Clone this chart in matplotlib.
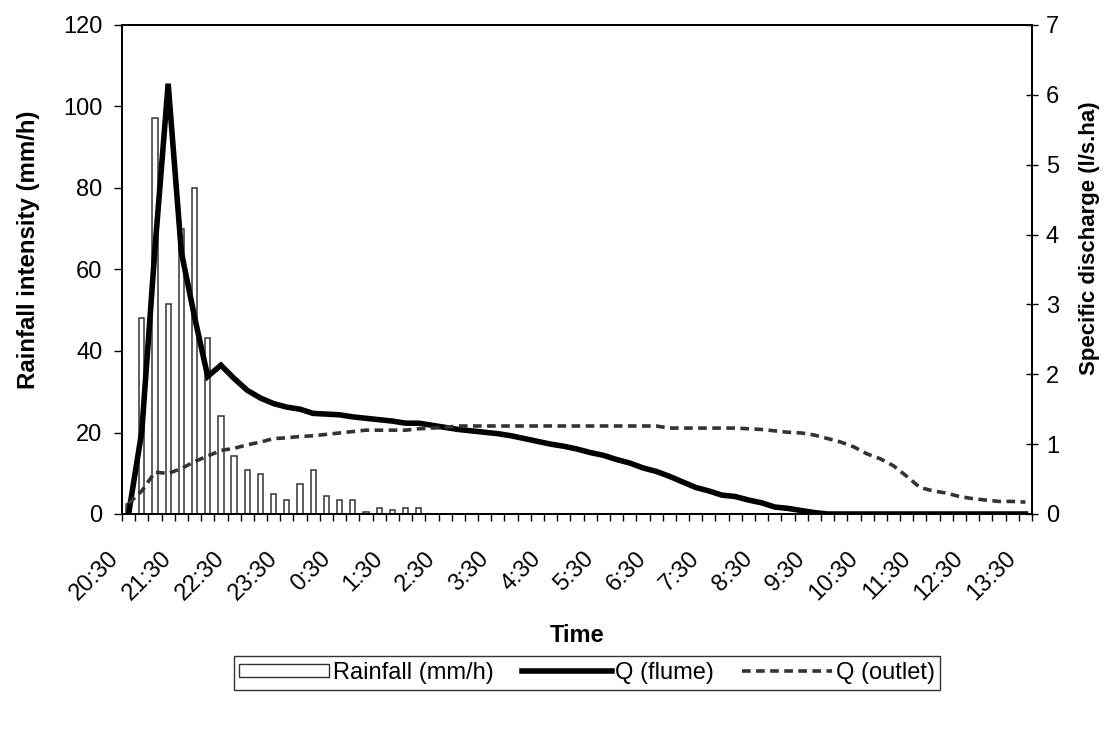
import numpy as np
import matplotlib
matplotlib.use("Agg")
import matplotlib.pyplot as plt
import matplotlib.transforms as mtransforms
from matplotlib.patches import Patch
from matplotlib.lines import Line2D

plt.rcParams['font.family'] = ['Liberation Sans', 'DejaVu Sans']

# 15-minute steps from 20:30 to 13:30 (69 steps), label every hour
hour_labels = ["20:30", "21:30", "22:30", "23:30", "0:30", "1:30", "2:30", "3:30",
               "4:30", "5:30", "6:30", "7:30", "8:30", "9:30", "10:30", "11:30",
               "12:30", "13:30"]

# rainfall intensity (mm/h)
rain = [2.5, 48, 97.3, 51.5, 70, 80, 43.3, 24, 14.2, 10.8, 9.8, 4.9, 3.4, 7.4,
        10.8, 4.4, 3.4, 3.4, 0.5, 1.5, 1.0, 1.5, 1.5, 0, 0, 0, 0, 0,
        0, 0, 0, 0, 0, 0, 0, 0, 0, 0, 0, 0, 0, 0,
        0, 0, 0, 0, 0, 0, 0, 0, 0, 0, 0, 0, 0, 0,
        0, 0, 0, 0, 0, 0, 0, 0, 0, 0, 0, 0, 0]

# specific discharge (l/s.ha)
q_flume = [0, 1.18, 3.8, 6.16, 3.75, 2.82, 1.97, 2.13, 1.94, 1.77, 1.66, 1.58, 1.53, 1.50,
           1.44, 1.43, 1.42, 1.39, 1.37, 1.35, 1.33, 1.30, 1.30, 1.27, 1.24, 1.21, 1.19, 1.17,
           1.15, 1.12, 1.08, 1.04, 1.00, 0.97, 0.93, 0.88, 0.84, 0.78, 0.73, 0.66, 0.61, 0.54,
           0.46, 0.38, 0.33, 0.27, 0.25, 0.20, 0.16, 0.10, 0.08, 0.05, 0.02, 0, 0, 0,
           0, 0, 0, 0, 0, 0, 0, 0, 0, 0, 0, 0, 0]

q_outlet = [0.15, 0.33, 0.60, 0.58, 0.65, 0.75, 0.83, 0.91, 0.94, 0.99, 1.03, 1.08, 1.09, 1.11,
            1.12, 1.14, 1.16, 1.18, 1.20, 1.20, 1.20, 1.20, 1.22, 1.23, 1.24, 1.26, 1.26, 1.26,
            1.26, 1.26, 1.26, 1.26, 1.26, 1.26, 1.26, 1.26, 1.26, 1.26, 1.26, 1.26, 1.26, 1.23,
            1.23, 1.23, 1.23, 1.23, 1.23, 1.22, 1.21, 1.19, 1.17, 1.16, 1.13, 1.08, 1.03, 0.96,
            0.86, 0.79, 0.69, 0.54, 0.38, 0.33, 0.30, 0.25, 0.22, 0.20, 0.18, 0.18, 0.17]

x = np.arange(len(rain))
W, H = 1112, 729
FS = 17

fig = plt.figure(figsize=(W / 100, H / 100), dpi=100)
ax = fig.add_axes([122 / W, 1 - 514 / H, (1032 - 122) / W, (514 - 25) / H])
ax2 = ax.twinx()

ax.bar(x, rain, width=0.4, facecolor="white", edgecolor="#333333", linewidth=1.1)
ax2.plot(x, q_flume, color="black", linewidth=4.0, solid_joinstyle="miter")
ax2.plot(x, q_outlet, color="#333333", linewidth=2.6, dashes=(2.4, 1.5))

ax.set_xlim(-0.5, len(rain) - 0.5)
ax.set_ylim(0, 120)
ax2.set_ylim(0, 7)
ax.set_yticks(np.arange(0, 121, 20))
ax2.set_yticks(np.arange(0, 8, 1))

# hour labels every 4th step, tick marks between steps
ax.set_xticks(x[::4])
ax.set_xticklabels(hour_labels, rotation=45, ha="right", va="top", fontsize=FS)
ax.set_xticks(np.arange(-0.5, len(rain)), minor=True)
ax.tick_params(axis="x", which="major", length=0, pad=24)
ax.tick_params(axis="x", which="minor", length=5, width=1, direction="out")
offset = mtransforms.ScaledTranslation(-5 / 100, 0, fig.dpi_scale_trans)
for lab in ax.get_xticklabels():
    lab.set_transform(lab.get_transform() + offset)

ax.tick_params(axis="y", labelsize=FS, length=6, width=1, pad=8)
ax2.tick_params(axis="y", labelsize=FS, length=8, width=1, direction="inout", pad=6)

for a in (ax, ax2):
    for s in a.spines.values():
        s.set_linewidth(1.3)

ax.set_xlabel("Time", fontsize=FS, fontweight="bold")
ax.xaxis.set_label_coords(0.5, -0.225)
ax.set_ylabel("Rainfall intensity (mm/h)", fontsize=17.3, fontweight="bold")
ax.yaxis.set_label_coords(-0.090, 0.54)
ax2.set_ylabel("Specific discharge (l/s.ha)", fontsize=16, fontweight="bold")
ax2.yaxis.set_label_coords(1.052, 0.564)

handles = [Patch(facecolor="white", edgecolor="#333333", linewidth=1.0),
           Line2D([], [], color="black", linewidth=4.0),
           Line2D([], [], color="#333333", linewidth=2.6, dashes=(2.4, 1.5))]
leg = fig.legend(handles, ["Rainfall (mm/h)", "Q (flume)", "Q (outlet)"],
                 loc="center", bbox_to_anchor=(587 / W, 1 - 673 / H), ncol=3,
                 fontsize=FS, frameon=True, fancybox=False, edgecolor="black",
                 handlelength=3.8, handleheight=0.5, handletextpad=0.15,
                 columnspacing=1.2, borderpad=0.25, borderaxespad=0)
leg.get_frame().set_linewidth(1.0)

fig.savefig("out.png", dpi=100)
